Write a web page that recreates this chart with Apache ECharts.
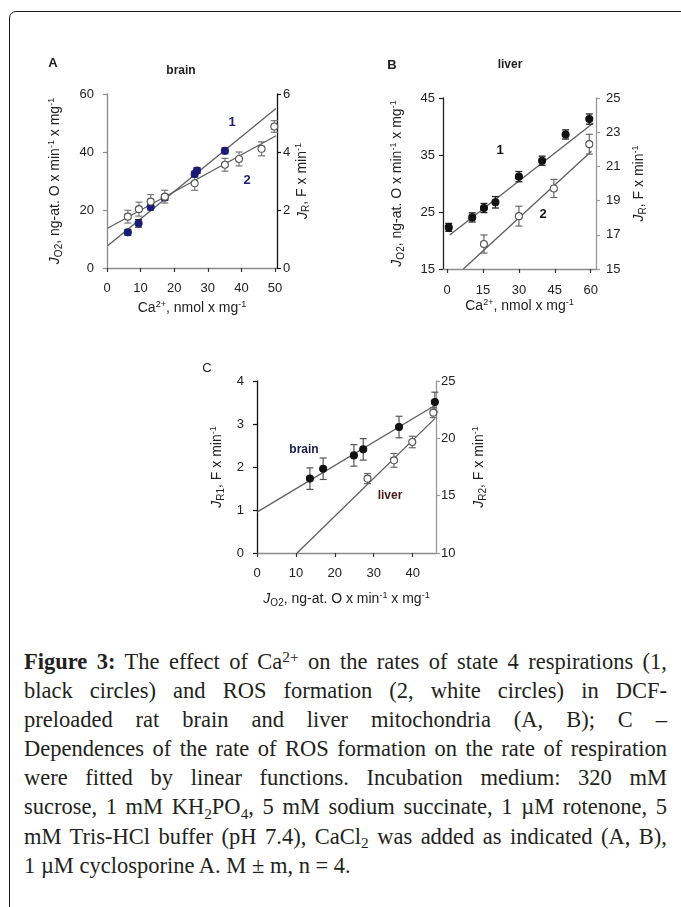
<!DOCTYPE html>
<html><head><meta charset="utf-8">
<script src="https://cdn.jsdelivr.net/npm/echarts@6/dist/echarts.min.js"></script>
<style>
html,body{margin:0;padding:0;background:#fff;width:681px;height:907px;overflow:hidden;}
#frame{position:absolute;left:9px;top:11px;width:700px;height:930px;border:1.3px solid #1a1a1a;border-radius:7px;box-sizing:border-box;}
#chart{position:absolute;left:0;top:0;width:681px;height:630px;}
#cap{position:absolute;left:24px;top:647px;width:643px;font-family:"Liberation Serif","DejaVu Serif",serif;font-size:22.5px;line-height:29.1px;color:#231f20;}
#cap div{text-align:justify;text-align-last:justify;white-space:normal;}
#cap div.last{text-align-last:left;}
sup,sub{font-size:0.68em;line-height:0;position:relative;vertical-align:baseline;}
sup{top:-0.45em;} sub{top:0.28em;}
</style></head>
<body>
<div id="frame"></div>
<div id="chart"></div>
<div id="cap">
<div><b>Figure 3:</b> The effect of Ca<sup>2+</sup> on the rates of state 4 respirations (1,</div>
<div>black circles) and ROS formation (2, white circles) in DCF-</div>
<div>preloaded rat brain and liver mitochondria (A, B); C –</div>
<div>Dependences of the rate of ROS formation on the rate of respiration</div>
<div>were fitted by linear functions. Incubation medium: 320 mM</div>
<div>sucrose, 1 mM KH<sub>2</sub>PO<sub>4</sub>, 5 mM sodium succinate, 1 µM rotenone, 5</div>
<div>mM Tris-HCl buffer (pH 7.4), CaCl<sub>2</sub> was added as indicated (A, B),</div>
<div class="last">1 µM cyclosporine A. M ± m, n = 4.</div>
</div>
<script>
// ---------- Panel A (brain) ----------
const caA_resp = [6.2, 9.4, 13.0, 17.2, 26.1, 26.8, 35.1];
const jO2A = [12.3, 15.4, 21.0, 24.3, 32.4, 33.6, 40.4];
const jO2A_err = [1.0, 1.3, 1.0, 1.0, 1.0, 1.0, 1.0];
const caA_ros = [6.2, 9.5, 13.0, 17.2, 26.1, 35.1, 39.3, 46.0, 49.8];
const jRA = [1.77, 2.03, 2.29, 2.46, 2.92, 3.56, 3.76, 4.11, 4.88];
const jRA_err = [0.22, 0.24, 0.24, 0.22, 0.24, 0.22, 0.24, 0.24, 0.2];
const fitA1 = [[0.2, 7.7], [50.3, 55.0]];
const fitA2 = [[0.2, 1.37], [50.3, 4.56]];
const xTicksA = [0, 10, 20, 30, 40, 50];

// ---------- Panel B (liver) ----------
const caB_resp = [0.7, 10.5, 15.4, 20.2, 30.0, 39.7, 49.5, 59.4];
const jO2B = [22.3, 24.05, 25.7, 26.7, 31.2, 34.0, 38.6, 41.3];
const jO2B_err = [0.7, 0.8, 0.8, 1.0, 0.9, 0.8, 0.8, 0.9];
const caB_ros = [15.4, 30.0, 44.6, 59.4];
const jRB = [16.46, 18.09, 19.71, 22.3];
const jRB_err = [0.53, 0.58, 0.53, 0.58];
const fitB1 = [[1.1, 20.95], [61.1, 40.6]];
const fitB2 = [[6.8, 15.0], [60.3, 21.88]];
const xTicksB = [0, 15, 30, 45, 60];

// ---------- Panel C ----------
const jO2C_brain = [13.6, 17.0, 24.9, 27.3, 36.5, 45.7];
const jR1C = [1.73, 1.96, 2.27, 2.41, 2.93, 3.51];
const jR1C_err = [0.25, 0.25, 0.25, 0.25, 0.25, 0.23];
const jO2C_liver = [28.4, 35.2, 39.9, 45.3];
const jR2C = [16.49, 18.08, 19.68, 22.24];
const jR2C_err = [0.44, 0.6, 0.5, 0.44];
const fitCb = [[0, 0.95], [45.7, 3.43]];
const fitCl = [[10.3, 10.0], [45.7, 21.72]];
const xTicksC = [0, 10, 20, 30, 40];

const FONT = '"Liberation Sans", Arial, sans-serif';
const TXT = '#222';
const rich = {
  i: {fontSize: 14, lineHeight: 17, fontStyle: 'italic', fontFamily: FONT, color: TXT},
  sub: {fontSize: 10, lineHeight: 10, verticalAlign: 'bottom', fontFamily: FONT, color: TXT},
  sup: {fontSize: 9, lineHeight: 9, verticalAlign: 'top', fontFamily: FONT, color: TXT}
};
const nameStyle = {fontSize: 14, lineHeight: 17, fontFamily: FONT, color: TXT, rich: rich};

function xAx(grid, min, max, ticks, name, gap, margin) {
  return {
    type: 'value', gridIndex: grid, min: min, max: max,
    axisLine: {show: true, onZero: false, lineStyle: {color: '#8a8a8a', width: 1.3}},
    axisTick: {show: true, length: 4, customValues: ticks, lineStyle: {color: '#333', width: 1.2}},
    axisLabel: {customValues: ticks, margin: margin, fontSize: 13, color: TXT, fontFamily: FONT},
    splitLine: {show: false},
    name: name, nameLocation: 'middle', nameGap: gap, nameTextStyle: nameStyle
  };
}
function yAx(grid, pos, min, max, interval, name, gap, margin, color) {
  return {
    type: 'value', gridIndex: grid, position: pos, min: min, max: max, interval: interval,
    axisLine: {show: true, onZero: false, lineStyle: {color: color, width: 1.3}},
    axisTick: {show: true, length: 4, lineStyle: {color: color, width: 1.2}},
    axisLabel: {margin: margin, fontSize: 13, color: TXT, fontFamily: FONT},
    splitLine: {show: false},
    name: name, nameLocation: 'middle', nameGap: gap, nameRotate: 90, nameTextStyle: nameStyle
  };
}
function errBar(color, width) {
  return function (params, api) {
    const x = api.value(0), y = api.value(1), e = api.value(2);
    const hi = api.coord([x, y + e]), lo = api.coord([x, y - e]);
    const w = 3.5;
    const st = {stroke: color, lineWidth: width};
    return {type: 'group', children: [
      {type: 'line', shape: {x1: hi[0], y1: hi[1], x2: lo[0], y2: lo[1]}, style: st},
      {type: 'line', shape: {x1: hi[0] - w, y1: hi[1], x2: hi[0] + w, y2: hi[1]}, style: st},
      {type: 'line', shape: {x1: lo[0] - w, y1: lo[1], x2: lo[0] + w, y2: lo[1]}, style: st}
    ]};
  };
}
function zip3(a, b, c) { return a.map((v, i) => [v, b[i], c[i]]); }
function zip2(a, b) { return a.map((v, i) => [v, b[i]]); }

function fitLine(xi, yi, data) {
  return {type: 'line', xAxisIndex: xi, yAxisIndex: yi, data: data, symbol: 'none',
    lineStyle: {color: '#5e5e5e', width: 1.3}, z: 1, silent: true};
}
function errSeries(xi, yi, data, color, width) {
  return {type: 'custom', xAxisIndex: xi, yAxisIndex: yi, data: data,
    renderItem: errBar(color, width), z: 2, silent: true};
}
function pts(xi, yi, data, fill, stroke) {
  return {type: 'scatter', xAxisIndex: xi, yAxisIndex: yi, data: data, symbol: 'circle', symbolSize: 7,
    itemStyle: {color: fill, borderColor: stroke, borderWidth: 1.1, opacity: 1}, z: 3, silent: true};
}

const NAVY = '#1c1c78';
function lbl(x, y, text, font, fill) {
  return {type: 'text', x: x, y: y, silent: true,
    style: {text: text, font: font, fill: fill, align: 'center', verticalAlign: 'middle'}};
}

const chart = echarts.init(document.getElementById('chart'));
chart.setOption({
  animation: false,
  backgroundColor: 'transparent',
  grid: [
    {left: 107, top: 94, width: 170, height: 174},
    {left: 443, top: 98, width: 153, height: 171},
    {left: 257, top: 381, width: 179, height: 172}
  ],
  xAxis: [
    xAx(0, 0, 50.6, xTicksA, 'Ca{sup|2+}, nmol x mg{sup|-1}', 32, 14),
    xAx(1, -1.7, 62.2, xTicksB, 'Ca{sup|2+}, nmol x mg{sup|-1}', 25, 15),
    xAx(2, 0, 46, xTicksC, '{i|J}{sub|O2}, ng-at. O x min{sup|-1} x mg{sup|-1}', 38, 14)
  ],
  yAxis: [
    yAx(0, 'left', 0, 60, 20, '{i|J}{sub|O2}, ng-at. O x min{sup|-1} x mg{sup|-1}', 43, 13, '#8a8a8a'),
    yAx(0, 'right', 0, 6, 2, '{i|J}{sub|R}, F x min{sup|-1}', 10, 6, '#111'),
    yAx(1, 'left', 15, 45, 10, '{i|J}{sub|O2}, ng-at. O x min{sup|-1} x mg{sup|-1}', 37, 8, '#222'),
    yAx(1, 'right', 15, 25, 2, '{i|J}{sub|R}, F x min{sup|-1}', 35, 10, '#999'),
    yAx(2, 'left', 0, 4, 1, '{i|J}{sub|R1}, F x min{sup|-1}', 31, 13, '#111'),
    yAx(2, 'right', 10, 25, 5, '{i|J}{sub|R2}, F x min{sup|-1}', 35, 5, '#999')
  ],
  series: [
    // A
    fitLine(0, 0, fitA1),
    fitLine(0, 1, fitA2),
    errSeries(0, 1, zip3(caA_ros, jRA, jRA_err), '#777', 1.2),
    errSeries(0, 0, zip3(caA_resp, jO2A, jO2A_err), '#222', 1.2),
    pts(0, 0, zip2(caA_resp, jO2A), NAVY, NAVY),
    pts(0, 1, zip2(caA_ros, jRA), '#fff', '#555'),
    // B
    fitLine(1, 2, fitB1),
    fitLine(1, 3, fitB2),
    errSeries(1, 2, zip3(caB_resp, jO2B, jO2B_err), '#222', 1.3),
    errSeries(1, 3, zip3(caB_ros, jRB, jRB_err), '#666', 1.2),
    pts(1, 2, zip2(caB_resp, jO2B), '#111', '#111'),
    pts(1, 3, zip2(caB_ros, jRB), '#fff', '#555'),
    // C
    fitLine(2, 4, fitCb),
    fitLine(2, 5, fitCl),
    errSeries(2, 4, zip3(jO2C_brain, jR1C, jR1C_err), '#555', 1.2),
    errSeries(2, 5, zip3(jO2C_liver, jR2C, jR2C_err), '#666', 1.2),
    pts(2, 4, zip2(jO2C_brain, jR1C), '#111', '#111'),
    pts(2, 5, zip2(jO2C_liver, jR2C), '#fff', '#555')
  ],
  graphic: [
    lbl(53, 63, 'A', 'bold 13px ' + FONT, TXT),
    lbl(181, 71, 'brain', 'bold 12px ' + FONT, '#222'),
    lbl(232, 122, '1', 'bold 13px ' + FONT, NAVY),
    lbl(247, 180, '2', 'bold 13px ' + FONT, NAVY),
    lbl(392, 65, 'B', 'bold 13px ' + FONT, TXT),
    lbl(510, 65, 'liver', 'bold 12px ' + FONT, '#222'),
    lbl(500, 150, '1', 'bold 13px ' + FONT, '#111'),
    lbl(543, 214, '2', 'bold 13px ' + FONT, '#111'),
    lbl(207, 368, 'C', '13px ' + FONT, TXT),
    lbl(304, 450, 'brain', 'bold 12px ' + FONT, '#1a1a4a'),
    lbl(390, 496, 'liver', 'bold 12px ' + FONT, '#4a1a1a')
  ]
});
</script>
</body></html>
